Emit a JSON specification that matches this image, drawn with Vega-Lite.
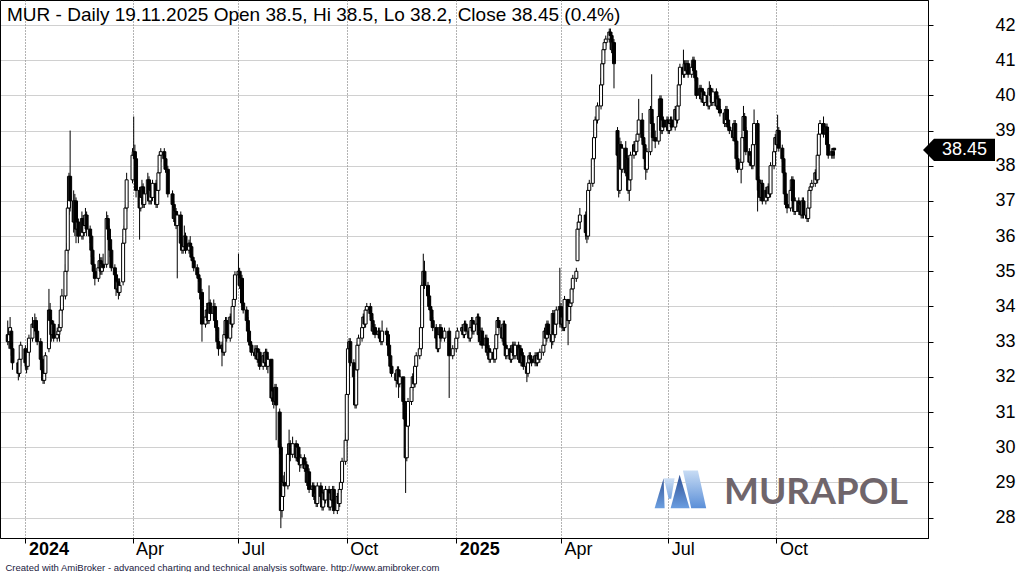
{
"$schema":"https://vega.github.io/schema/vega-lite/v6.json",
"width":928,"height":538,"padding":{"left":0,"top":0,"right":93,"bottom":34},"autosize":{"type":"none"},"background":"#ffffff",
"title":{"text":"MUR - Daily 19.11.2025 Open 38.5, Hi 38.5, Lo 38.2, Close 38.45 (0.4%)","anchor":"start","frame":"group","orient":"top","offset":-20,"dy":20,"baseline":"alphabetic","dx":7,"font":"Liberation Sans","fontSize":19,"fontWeight":"normal","color":"#000000"},
"config":{"view":{"stroke":"#000000","strokeWidth":1},"font":"Liberation Sans"},
"resolve":{"axis":{"x":"independent","y":"independent"}},
"datasets":{
"ohlc":[
{"d":"2023-12-18","o":33.2,"h":33.6,"l":32.9,"c":33.0},
{"d":"2023-12-19","o":33.0,"h":33.4,"l":32.8,"c":33.2},
{"d":"2023-12-20","o":33.2,"h":33.7,"l":33.1,"c":33.4},
{"d":"2023-12-21","o":33.3,"h":33.4,"l":32.6,"c":32.8},
{"d":"2023-12-22","o":32.8,"h":33.0,"l":32.2,"c":32.4},
{"d":"2023-12-27","o":32.4,"h":32.5,"l":31.9,"c":32.1},
{"d":"2023-12-28","o":32.1,"h":32.7,"l":32.0,"c":32.5},
{"d":"2023-12-29","o":32.5,"h":33.0,"l":32.3,"c":32.9},
{"d":"2024-01-02","o":32.8,"h":32.9,"l":32.2,"c":32.4},
{"d":"2024-01-03","o":32.4,"h":32.6,"l":32.1,"c":32.3},
{"d":"2024-01-04","o":32.3,"h":32.8,"l":32.2,"c":32.7},
{"d":"2024-01-05","o":32.7,"h":33.2,"l":32.6,"c":33.1},
{"d":"2024-01-08","o":33.1,"h":33.7,"l":33.0,"c":33.5},
{"d":"2024-01-09","o":33.5,"h":33.6,"l":33.2,"c":33.4},
{"d":"2024-01-10","o":33.4,"h":33.8,"l":33.3,"c":33.6},
{"d":"2024-01-11","o":33.6,"h":33.7,"l":33.2,"c":33.3},
{"d":"2024-01-12","o":33.3,"h":33.4,"l":32.9,"c":33.0},
{"d":"2024-01-15","o":33.0,"h":33.1,"l":32.4,"c":32.5},
{"d":"2024-01-16","o":32.5,"h":32.6,"l":32.1,"c":32.2},
{"d":"2024-01-17","o":32.2,"h":32.3,"l":31.8,"c":31.9},
{"d":"2024-01-18","o":31.9,"h":32.3,"l":31.8,"c":32.1},
{"d":"2024-01-19","o":32.1,"h":32.7,"l":32.0,"c":32.6},
{"d":"2024-01-22","o":32.8,"h":34.5,"l":32.7,"c":33.9},
{"d":"2024-01-23","o":33.9,"h":34.1,"l":33.4,"c":33.6},
{"d":"2024-01-24","o":33.6,"h":33.7,"l":33.0,"c":33.2},
{"d":"2024-01-25","o":33.2,"h":33.6,"l":33.1,"c":33.5},
{"d":"2024-01-26","o":33.5,"h":33.6,"l":33.0,"c":33.1},
{"d":"2024-01-29","o":33.1,"h":33.4,"l":33.0,"c":33.2},
{"d":"2024-01-30","o":33.2,"h":33.5,"l":33.1,"c":33.3},
{"d":"2024-01-31","o":33.3,"h":33.5,"l":33.0,"c":33.4},
{"d":"2024-02-01","o":33.4,"h":34.0,"l":33.3,"c":33.9},
{"d":"2024-02-02","o":33.9,"h":34.5,"l":33.8,"c":34.3},
{"d":"2024-02-05","o":34.3,"h":35.2,"l":34.2,"c":35.0},
{"d":"2024-02-06","o":35.0,"h":35.8,"l":34.9,"c":35.6},
{"d":"2024-02-07","o":35.6,"h":37.0,"l":35.5,"c":36.8},
{"d":"2024-02-08","o":36.8,"h":37.8,"l":36.6,"c":37.7},
{"d":"2024-02-09","o":37.7,"h":39.0,"l":36.7,"c":37.0},
{"d":"2024-02-12","o":37.0,"h":37.3,"l":36.1,"c":36.4},
{"d":"2024-02-13","o":36.4,"h":37.2,"l":36.0,"c":37.0},
{"d":"2024-02-14","o":37.0,"h":37.1,"l":35.8,"c":36.2},
{"d":"2024-02-15","o":36.2,"h":36.6,"l":36.0,"c":36.4},
{"d":"2024-02-16","o":36.4,"h":36.5,"l":35.8,"c":36.0},
{"d":"2024-02-19","o":36.0,"h":36.7,"l":35.9,"c":36.5},
{"d":"2024-02-20","o":36.5,"h":36.6,"l":35.9,"c":36.1},
{"d":"2024-02-21","o":36.1,"h":36.6,"l":36.0,"c":36.3},
{"d":"2024-02-22","o":36.3,"h":36.8,"l":36.2,"c":36.6},
{"d":"2024-02-23","o":36.6,"h":36.7,"l":36.0,"c":36.2},
{"d":"2024-02-26","o":36.2,"h":36.3,"l":35.8,"c":36.0},
{"d":"2024-02-27","o":36.0,"h":36.1,"l":35.4,"c":35.6},
{"d":"2024-02-28","o":35.6,"h":35.7,"l":35.0,"c":35.2},
{"d":"2024-02-29","o":35.2,"h":35.4,"l":34.8,"c":35.0},
{"d":"2024-03-01","o":35.0,"h":35.1,"l":34.6,"c":34.8},
{"d":"2024-03-04","o":34.8,"h":35.3,"l":34.7,"c":35.1},
{"d":"2024-03-05","o":35.1,"h":35.5,"l":35.0,"c":35.3},
{"d":"2024-03-06","o":35.3,"h":35.4,"l":34.9,"c":35.0},
{"d":"2024-03-07","o":35.0,"h":35.4,"l":34.9,"c":35.2},
{"d":"2024-03-08","o":35.2,"h":35.5,"l":35.0,"c":35.1},
{"d":"2024-03-11","o":35.2,"h":36.7,"l":35.1,"c":36.5},
{"d":"2024-03-12","o":36.5,"h":36.6,"l":36.0,"c":36.2},
{"d":"2024-03-13","o":36.2,"h":36.3,"l":35.7,"c":35.9},
{"d":"2024-03-14","o":35.9,"h":36.0,"l":35.4,"c":35.6},
{"d":"2024-03-15","o":35.6,"h":35.7,"l":35.0,"c":35.1},
{"d":"2024-03-18","o":35.1,"h":35.2,"l":34.7,"c":34.9},
{"d":"2024-03-19","o":34.9,"h":35.0,"l":34.3,"c":34.5},
{"d":"2024-03-20","o":34.5,"h":34.9,"l":34.4,"c":34.7},
{"d":"2024-03-21","o":34.7,"h":34.8,"l":34.2,"c":34.4},
{"d":"2024-03-22","o":34.4,"h":34.8,"l":34.3,"c":34.6},
{"d":"2024-03-25","o":34.7,"h":35.9,"l":34.6,"c":35.8},
{"d":"2024-03-26","o":35.8,"h":36.3,"l":35.6,"c":36.2},
{"d":"2024-03-27","o":36.2,"h":36.9,"l":36.1,"c":36.8},
{"d":"2024-03-28","o":36.8,"h":37.8,"l":36.7,"c":37.6},
{"d":"2024-04-02","o":37.6,"h":38.5,"l":37.5,"c":38.3},
{"d":"2024-04-03","o":38.3,"h":39.4,"l":38.1,"c":38.4},
{"d":"2024-04-04","o":38.4,"h":38.6,"l":38.0,"c":38.2},
{"d":"2024-04-05","o":38.2,"h":38.3,"l":37.1,"c":37.3},
{"d":"2024-04-08","o":37.3,"h":37.4,"l":35.9,"c":36.8},
{"d":"2024-04-09","o":36.8,"h":37.3,"l":36.7,"c":37.1},
{"d":"2024-04-10","o":37.1,"h":37.6,"l":37.0,"c":37.4},
{"d":"2024-04-11","o":37.4,"h":37.5,"l":36.8,"c":36.9},
{"d":"2024-04-12","o":36.9,"h":37.3,"l":36.8,"c":37.2},
{"d":"2024-04-15","o":37.2,"h":37.8,"l":37.1,"c":37.6},
{"d":"2024-04-16","o":37.6,"h":37.7,"l":36.9,"c":37.0},
{"d":"2024-04-17","o":37.0,"h":37.4,"l":36.9,"c":37.3},
{"d":"2024-04-18","o":37.3,"h":37.4,"l":36.9,"c":37.1},
{"d":"2024-04-19","o":37.1,"h":37.6,"l":37.0,"c":37.5},
{"d":"2024-04-22","o":37.5,"h":37.6,"l":36.8,"c":36.9},
{"d":"2024-04-23","o":36.9,"h":37.4,"l":36.8,"c":37.3},
{"d":"2024-04-24","o":37.3,"h":37.9,"l":37.2,"c":37.8},
{"d":"2024-04-25","o":37.8,"h":38.4,"l":37.7,"c":38.3},
{"d":"2024-04-26","o":38.3,"h":38.5,"l":38.1,"c":38.4},
{"d":"2024-04-29","o":38.4,"h":38.5,"l":38.0,"c":38.2},
{"d":"2024-04-30","o":38.2,"h":38.3,"l":37.8,"c":37.9},
{"d":"2024-05-02","o":37.9,"h":38.0,"l":37.1,"c":37.2},
{"d":"2024-05-06","o":37.2,"h":37.3,"l":36.8,"c":36.9},
{"d":"2024-05-07","o":36.9,"h":37.0,"l":36.4,"c":36.5},
{"d":"2024-05-08","o":36.5,"h":36.9,"l":36.4,"c":36.7},
{"d":"2024-05-09","o":36.7,"h":36.8,"l":36.2,"c":36.3},
{"d":"2024-05-10","o":36.3,"h":36.7,"l":34.8,"c":36.6},
{"d":"2024-05-13","o":36.6,"h":36.7,"l":35.6,"c":35.8},
{"d":"2024-05-14","o":35.8,"h":36.0,"l":35.5,"c":35.6},
{"d":"2024-05-15","o":35.6,"h":35.9,"l":35.5,"c":35.7},
{"d":"2024-05-16","o":35.7,"h":36.3,"l":35.6,"c":36.0},
{"d":"2024-05-17","o":36.0,"h":36.1,"l":35.5,"c":35.6},
{"d":"2024-05-20","o":35.6,"h":35.9,"l":35.5,"c":35.8},
{"d":"2024-05-21","o":35.8,"h":36.0,"l":35.6,"c":35.7},
{"d":"2024-05-22","o":35.7,"h":35.8,"l":35.3,"c":35.4},
{"d":"2024-05-23","o":35.4,"h":35.5,"l":35.2,"c":35.3},
{"d":"2024-05-24","o":35.3,"h":35.4,"l":35.0,"c":35.1},
{"d":"2024-05-27","o":35.1,"h":35.2,"l":34.8,"c":34.9},
{"d":"2024-05-28","o":34.9,"h":35.0,"l":34.7,"c":34.8},
{"d":"2024-05-29","o":34.8,"h":34.9,"l":34.2,"c":34.4},
{"d":"2024-05-31","o":34.4,"h":34.5,"l":33.0,"c":33.5},
{"d":"2024-06-03","o":33.5,"h":33.9,"l":33.4,"c":33.7},
{"d":"2024-06-04","o":33.7,"h":34.1,"l":33.6,"c":33.9},
{"d":"2024-06-05","o":33.9,"h":34.0,"l":33.5,"c":33.6},
{"d":"2024-06-06","o":33.6,"h":34.6,"l":33.5,"c":34.1},
{"d":"2024-06-07","o":34.1,"h":34.2,"l":33.7,"c":33.8},
{"d":"2024-06-10","o":33.8,"h":34.2,"l":33.7,"c":34.0},
{"d":"2024-06-11","o":34.0,"h":34.1,"l":33.5,"c":33.6},
{"d":"2024-06-12","o":33.6,"h":33.7,"l":33.3,"c":33.4},
{"d":"2024-06-13","o":33.4,"h":33.5,"l":32.9,"c":33.0},
{"d":"2024-06-14","o":33.0,"h":33.1,"l":32.6,"c":32.8},
{"d":"2024-06-17","o":32.8,"h":33.0,"l":32.3,"c":32.9},
{"d":"2024-06-18","o":32.9,"h":33.0,"l":32.6,"c":32.7},
{"d":"2024-06-19","o":32.7,"h":33.3,"l":32.6,"c":33.2},
{"d":"2024-06-20","o":33.2,"h":33.7,"l":33.1,"c":33.6},
{"d":"2024-06-21","o":33.6,"h":33.7,"l":33.0,"c":33.1},
{"d":"2024-06-24","o":33.1,"h":33.8,"l":33.0,"c":33.7},
{"d":"2024-06-25","o":33.7,"h":33.8,"l":33.4,"c":33.5},
{"d":"2024-06-26","o":33.5,"h":34.1,"l":33.4,"c":34.0},
{"d":"2024-06-27","o":34.0,"h":34.3,"l":33.9,"c":34.2},
{"d":"2024-06-28","o":34.2,"h":35.0,"l":34.1,"c":34.9},
{"d":"2024-07-01","o":34.9,"h":35.5,"l":34.8,"c":35.0},
{"d":"2024-07-02","o":35.0,"h":35.1,"l":34.5,"c":34.6},
{"d":"2024-07-03","o":34.6,"h":34.9,"l":34.1,"c":34.8},
{"d":"2024-07-04","o":34.8,"h":34.9,"l":34.0,"c":34.1},
{"d":"2024-07-05","o":34.1,"h":34.2,"l":33.8,"c":33.9},
{"d":"2024-07-08","o":33.9,"h":34.0,"l":33.5,"c":33.6},
{"d":"2024-07-09","o":33.6,"h":33.7,"l":33.2,"c":33.3},
{"d":"2024-07-10","o":33.3,"h":33.4,"l":32.9,"c":33.0},
{"d":"2024-07-11","o":33.0,"h":33.1,"l":32.8,"c":32.9},
{"d":"2024-07-12","o":32.9,"h":33.0,"l":32.6,"c":32.7},
{"d":"2024-07-15","o":32.7,"h":32.9,"l":32.5,"c":32.6},
{"d":"2024-07-16","o":32.6,"h":32.9,"l":32.5,"c":32.8},
{"d":"2024-07-17","o":32.8,"h":32.9,"l":32.4,"c":32.5},
{"d":"2024-07-18","o":32.5,"h":32.8,"l":32.4,"c":32.7},
{"d":"2024-07-19","o":32.7,"h":32.8,"l":32.2,"c":32.3},
{"d":"2024-07-22","o":32.3,"h":32.7,"l":32.2,"c":32.6},
{"d":"2024-07-23","o":32.6,"h":32.7,"l":32.3,"c":32.4},
{"d":"2024-07-24","o":32.4,"h":32.8,"l":32.3,"c":32.7},
{"d":"2024-07-25","o":32.7,"h":32.8,"l":32.2,"c":32.3},
{"d":"2024-07-26","o":32.3,"h":32.6,"l":32.1,"c":32.5},
{"d":"2024-07-29","o":32.5,"h":32.5,"l":31.3,"c":31.4},
{"d":"2024-07-30","o":31.4,"h":31.7,"l":31.2,"c":31.6},
{"d":"2024-07-31","o":31.6,"h":31.7,"l":31.1,"c":31.3},
{"d":"2024-08-01","o":31.3,"h":31.8,"l":31.2,"c":31.7},
{"d":"2024-08-02","o":31.7,"h":31.8,"l":30.2,"c":31.2},
{"d":"2024-08-05","o":31.0,"h":31.1,"l":29.8,"c":30.0},
{"d":"2024-08-06","o":30.0,"h":30.1,"l":27.7,"c":28.2},
{"d":"2024-08-07","o":28.2,"h":28.8,"l":28.0,"c":28.6},
{"d":"2024-08-08","o":28.6,"h":29.2,"l":28.5,"c":29.0},
{"d":"2024-08-09","o":29.0,"h":29.3,"l":28.7,"c":28.9},
{"d":"2024-08-12","o":28.9,"h":30.0,"l":28.8,"c":29.8},
{"d":"2024-08-13","o":29.8,"h":30.5,"l":29.7,"c":30.1},
{"d":"2024-08-14","o":30.1,"h":30.2,"l":29.6,"c":29.8},
{"d":"2024-08-16","o":29.8,"h":30.3,"l":29.7,"c":30.1},
{"d":"2024-08-19","o":30.1,"h":30.2,"l":29.6,"c":29.7},
{"d":"2024-08-20","o":29.7,"h":30.1,"l":29.6,"c":30.0},
{"d":"2024-08-21","o":30.0,"h":30.1,"l":29.5,"c":29.6},
{"d":"2024-08-22","o":29.6,"h":29.7,"l":29.3,"c":29.5},
{"d":"2024-08-23","o":29.5,"h":29.8,"l":29.4,"c":29.7},
{"d":"2024-08-26","o":29.7,"h":29.8,"l":29.3,"c":29.4},
{"d":"2024-08-27","o":29.4,"h":29.6,"l":29.3,"c":29.5},
{"d":"2024-08-28","o":29.5,"h":29.6,"l":28.9,"c":29.0},
{"d":"2024-08-29","o":29.0,"h":29.4,"l":28.9,"c":29.3},
{"d":"2024-08-30","o":29.3,"h":29.4,"l":28.7,"c":28.8},
{"d":"2024-09-02","o":28.8,"h":29.0,"l":28.6,"c":28.9},
{"d":"2024-09-03","o":28.9,"h":29.0,"l":28.5,"c":28.6},
{"d":"2024-09-04","o":28.6,"h":28.9,"l":28.5,"c":28.7},
{"d":"2024-09-05","o":28.7,"h":28.8,"l":28.3,"c":28.4},
{"d":"2024-09-06","o":28.4,"h":29.0,"l":28.3,"c":28.9},
{"d":"2024-09-09","o":28.9,"h":29.0,"l":28.5,"c":28.6},
{"d":"2024-09-10","o":28.6,"h":28.7,"l":28.2,"c":28.3},
{"d":"2024-09-11","o":28.3,"h":28.8,"l":28.2,"c":28.7},
{"d":"2024-09-12","o":28.7,"h":28.8,"l":28.4,"c":28.5},
{"d":"2024-09-13","o":28.5,"h":28.9,"l":28.4,"c":28.8},
{"d":"2024-09-16","o":28.8,"h":28.9,"l":28.2,"c":28.3},
{"d":"2024-09-17","o":28.3,"h":28.8,"l":28.2,"c":28.7},
{"d":"2024-09-18","o":28.7,"h":28.8,"l":28.4,"c":28.5},
{"d":"2024-09-19","o":28.5,"h":28.9,"l":28.4,"c":28.8},
{"d":"2024-09-20","o":28.8,"h":28.9,"l":28.1,"c":28.2},
{"d":"2024-09-23","o":28.2,"h":28.7,"l":28.1,"c":28.6},
{"d":"2024-09-24","o":28.6,"h":28.7,"l":28.3,"c":28.4},
{"d":"2024-09-25","o":28.4,"h":28.9,"l":28.3,"c":28.8},
{"d":"2024-09-26","o":28.8,"h":29.1,"l":28.7,"c":29.0},
{"d":"2024-09-27","o":29.0,"h":29.7,"l":28.9,"c":29.6},
{"d":"2024-09-30","o":29.6,"h":30.4,"l":29.5,"c":30.2},
{"d":"2024-10-01","o":30.2,"h":31.6,"l":30.1,"c":31.5},
{"d":"2024-10-02","o":31.5,"h":32.9,"l":31.4,"c":32.8},
{"d":"2024-10-03","o":32.8,"h":33.1,"l":32.5,"c":33.0},
{"d":"2024-10-04","o":33.0,"h":33.1,"l":32.3,"c":32.4},
{"d":"2024-10-07","o":32.4,"h":32.5,"l":31.9,"c":32.0},
{"d":"2024-10-08","o":32.0,"h":32.1,"l":31.1,"c":31.2},
{"d":"2024-10-09","o":31.2,"h":32.3,"l":31.1,"c":32.2},
{"d":"2024-10-10","o":32.2,"h":33.0,"l":32.1,"c":32.9},
{"d":"2024-10-11","o":32.9,"h":33.2,"l":32.8,"c":33.1},
{"d":"2024-10-14","o":33.1,"h":33.5,"l":33.0,"c":33.4},
{"d":"2024-10-15","o":33.4,"h":33.8,"l":33.3,"c":33.7},
{"d":"2024-10-16","o":33.7,"h":33.8,"l":33.4,"c":33.5},
{"d":"2024-10-17","o":33.5,"h":34.0,"l":33.4,"c":33.9},
{"d":"2024-10-18","o":33.9,"h":34.1,"l":33.8,"c":34.0},
{"d":"2024-10-21","o":34.0,"h":34.1,"l":33.7,"c":33.8},
{"d":"2024-10-22","o":33.8,"h":33.9,"l":33.5,"c":33.6},
{"d":"2024-10-23","o":33.6,"h":33.7,"l":33.2,"c":33.3},
{"d":"2024-10-24","o":33.3,"h":33.5,"l":33.2,"c":33.4},
{"d":"2024-10-25","o":33.4,"h":33.5,"l":33.1,"c":33.2},
{"d":"2024-10-28","o":33.2,"h":33.4,"l":33.1,"c":33.3},
{"d":"2024-10-29","o":33.3,"h":33.4,"l":33.0,"c":33.1},
{"d":"2024-10-30","o":33.1,"h":33.2,"l":32.9,"c":33.0},
{"d":"2024-10-31","o":33.0,"h":33.6,"l":32.9,"c":33.3},
{"d":"2024-11-04","o":33.3,"h":33.4,"l":33.1,"c":33.2},
{"d":"2024-11-05","o":33.2,"h":33.3,"l":32.8,"c":32.9},
{"d":"2024-11-06","o":32.9,"h":33.0,"l":32.5,"c":32.6},
{"d":"2024-11-07","o":32.6,"h":32.7,"l":32.2,"c":32.3},
{"d":"2024-11-08","o":32.3,"h":32.4,"l":32.0,"c":32.1},
{"d":"2024-11-12","o":32.1,"h":32.2,"l":31.7,"c":31.9},
{"d":"2024-11-13","o":31.9,"h":32.3,"l":31.8,"c":32.2},
{"d":"2024-11-14","o":32.2,"h":32.3,"l":31.4,"c":31.8},
{"d":"2024-11-15","o":31.8,"h":32.1,"l":31.7,"c":32.0},
{"d":"2024-11-18","o":32.0,"h":32.0,"l":31.2,"c":31.3},
{"d":"2024-11-19","o":31.3,"h":31.4,"l":30.6,"c":30.8},
{"d":"2024-11-20","o":30.8,"h":30.9,"l":28.7,"c":29.7},
{"d":"2024-11-21","o":29.7,"h":30.7,"l":29.6,"c":30.6},
{"d":"2024-11-22","o":30.6,"h":31.4,"l":30.5,"c":31.3},
{"d":"2024-11-25","o":31.3,"h":31.8,"l":31.2,"c":31.7},
{"d":"2024-11-26","o":31.7,"h":32.1,"l":31.6,"c":32.0},
{"d":"2024-11-27","o":32.0,"h":32.1,"l":31.7,"c":31.8},
{"d":"2024-11-28","o":31.8,"h":32.4,"l":31.7,"c":32.3},
{"d":"2024-11-29","o":32.3,"h":32.7,"l":32.2,"c":32.6},
{"d":"2024-12-02","o":32.6,"h":32.9,"l":32.5,"c":32.8},
{"d":"2024-12-03","o":32.8,"h":33.5,"l":32.7,"c":33.4},
{"d":"2024-12-04","o":33.4,"h":34.7,"l":33.3,"c":34.6},
{"d":"2024-12-05","o":34.6,"h":35.5,"l":34.5,"c":35.0},
{"d":"2024-12-06","o":35.0,"h":35.3,"l":34.5,"c":34.6},
{"d":"2024-12-09","o":34.6,"h":34.7,"l":34.2,"c":34.3},
{"d":"2024-12-10","o":34.3,"h":34.4,"l":33.9,"c":34.0},
{"d":"2024-12-11","o":34.0,"h":34.2,"l":33.8,"c":33.9},
{"d":"2024-12-12","o":33.9,"h":34.0,"l":33.5,"c":33.6},
{"d":"2024-12-13","o":33.6,"h":33.7,"l":33.3,"c":33.4},
{"d":"2024-12-16","o":33.4,"h":33.5,"l":33.0,"c":33.1},
{"d":"2024-12-17","o":33.1,"h":33.2,"l":32.7,"c":32.8},
{"d":"2024-12-18","o":32.8,"h":33.3,"l":32.7,"c":33.2},
{"d":"2024-12-19","o":33.2,"h":33.5,"l":33.1,"c":33.4},
{"d":"2024-12-20","o":33.4,"h":33.5,"l":33.0,"c":33.1},
{"d":"2024-12-23","o":33.1,"h":33.4,"l":33.0,"c":33.3},
{"d":"2024-12-27","o":33.3,"h":33.4,"l":31.4,"c":32.6},
{"d":"2024-12-30","o":32.6,"h":32.9,"l":32.5,"c":32.8},
{"d":"2025-01-02","o":32.8,"h":33.2,"l":32.7,"c":33.1},
{"d":"2025-01-03","o":33.1,"h":33.4,"l":33.0,"c":33.3},
{"d":"2025-01-07","o":33.3,"h":33.5,"l":33.2,"c":33.4},
{"d":"2025-01-08","o":33.4,"h":33.5,"l":33.1,"c":33.2},
{"d":"2025-01-09","o":33.2,"h":33.6,"l":33.1,"c":33.5},
{"d":"2025-01-10","o":33.5,"h":33.6,"l":33.2,"c":33.3},
{"d":"2025-01-13","o":33.3,"h":33.4,"l":33.0,"c":33.1},
{"d":"2025-01-14","o":33.1,"h":33.5,"l":33.0,"c":33.4},
{"d":"2025-01-15","o":33.4,"h":33.7,"l":33.3,"c":33.6},
{"d":"2025-01-16","o":33.6,"h":33.7,"l":33.2,"c":33.3},
{"d":"2025-01-17","o":33.3,"h":33.6,"l":33.2,"c":33.5},
{"d":"2025-01-20","o":33.5,"h":33.8,"l":33.4,"c":33.7},
{"d":"2025-01-21","o":33.7,"h":33.8,"l":33.1,"c":33.2},
{"d":"2025-01-22","o":33.2,"h":33.3,"l":32.9,"c":33.0},
{"d":"2025-01-23","o":33.0,"h":33.4,"l":32.9,"c":33.3},
{"d":"2025-01-24","o":33.3,"h":33.4,"l":32.8,"c":32.9},
{"d":"2025-01-27","o":32.9,"h":33.2,"l":32.8,"c":33.1},
{"d":"2025-01-28","o":33.1,"h":33.2,"l":32.6,"c":32.7},
{"d":"2025-01-29","o":32.7,"h":32.9,"l":32.6,"c":32.8},
{"d":"2025-01-30","o":32.8,"h":32.9,"l":32.4,"c":32.5},
{"d":"2025-01-31","o":32.5,"h":32.8,"l":32.4,"c":32.7},
{"d":"2025-02-03","o":32.7,"h":32.8,"l":32.4,"c":32.5},
{"d":"2025-02-04","o":32.5,"h":32.9,"l":32.4,"c":32.8},
{"d":"2025-02-05","o":32.8,"h":33.3,"l":32.7,"c":33.2},
{"d":"2025-02-06","o":33.2,"h":33.7,"l":33.1,"c":33.6},
{"d":"2025-02-07","o":33.6,"h":33.7,"l":33.3,"c":33.4},
{"d":"2025-02-10","o":33.4,"h":33.5,"l":33.0,"c":33.1},
{"d":"2025-02-11","o":33.1,"h":33.6,"l":33.0,"c":33.5},
{"d":"2025-02-12","o":33.5,"h":33.6,"l":32.8,"c":32.9},
{"d":"2025-02-13","o":32.9,"h":33.0,"l":32.5,"c":32.6},
{"d":"2025-02-14","o":32.6,"h":32.9,"l":32.5,"c":32.8},
{"d":"2025-02-17","o":32.8,"h":32.9,"l":32.4,"c":32.5},
{"d":"2025-02-18","o":32.5,"h":32.8,"l":32.4,"c":32.7},
{"d":"2025-02-19","o":32.7,"h":33.0,"l":32.6,"c":32.9},
{"d":"2025-02-20","o":32.9,"h":33.0,"l":32.5,"c":32.6},
{"d":"2025-02-21","o":32.6,"h":33.0,"l":32.5,"c":32.9},
{"d":"2025-02-24","o":32.9,"h":33.0,"l":32.4,"c":32.5},
{"d":"2025-02-25","o":32.5,"h":32.9,"l":32.4,"c":32.8},
{"d":"2025-02-26","o":32.8,"h":32.9,"l":32.3,"c":32.4},
{"d":"2025-02-27","o":32.4,"h":32.7,"l":32.3,"c":32.6},
{"d":"2025-02-28","o":32.6,"h":32.7,"l":32.2,"c":32.3},
{"d":"2025-03-03","o":32.3,"h":32.4,"l":31.85,"c":32.1},
{"d":"2025-03-04","o":32.1,"h":32.5,"l":32.0,"c":32.4},
{"d":"2025-03-05","o":32.4,"h":32.7,"l":32.3,"c":32.6},
{"d":"2025-03-06","o":32.6,"h":32.7,"l":32.4,"c":32.5},
{"d":"2025-03-07","o":32.5,"h":32.6,"l":32.3,"c":32.4},
{"d":"2025-03-10","o":32.4,"h":32.7,"l":32.3,"c":32.6},
{"d":"2025-03-11","o":32.6,"h":32.7,"l":32.3,"c":32.4},
{"d":"2025-03-12","o":32.4,"h":32.7,"l":32.3,"c":32.6},
{"d":"2025-03-13","o":32.6,"h":32.7,"l":32.4,"c":32.5},
{"d":"2025-03-14","o":32.5,"h":32.8,"l":32.4,"c":32.7},
{"d":"2025-03-17","o":32.7,"h":33.0,"l":32.6,"c":32.9},
{"d":"2025-03-18","o":32.9,"h":33.4,"l":32.8,"c":33.3},
{"d":"2025-03-19","o":33.3,"h":33.4,"l":33.0,"c":33.1},
{"d":"2025-03-20","o":33.1,"h":33.6,"l":33.0,"c":33.5},
{"d":"2025-03-21","o":33.5,"h":33.6,"l":33.1,"c":33.2},
{"d":"2025-03-24","o":33.2,"h":33.3,"l":32.8,"c":33.0},
{"d":"2025-03-25","o":33.0,"h":33.9,"l":32.9,"c":33.8},
{"d":"2025-03-26","o":33.8,"h":33.9,"l":33.1,"c":33.2},
{"d":"2025-03-27","o":33.2,"h":33.6,"l":33.1,"c":33.5},
{"d":"2025-03-28","o":33.5,"h":34.0,"l":33.4,"c":33.9},
{"d":"2025-03-31","o":33.9,"h":35.1,"l":33.4,"c":34.0},
{"d":"2025-04-01","o":34.0,"h":34.1,"l":33.4,"c":33.5},
{"d":"2025-04-02","o":33.5,"h":33.8,"l":33.3,"c":33.7},
{"d":"2025-04-03","o":33.7,"h":33.8,"l":33.3,"c":33.4},
{"d":"2025-04-04","o":33.4,"h":34.3,"l":33.3,"c":34.2},
{"d":"2025-04-07","o":34.2,"h":34.2,"l":32.9,"c":33.6},
{"d":"2025-04-08","o":33.6,"h":34.1,"l":33.5,"c":34.0},
{"d":"2025-04-09","o":34.0,"h":34.2,"l":33.8,"c":34.1},
{"d":"2025-04-10","o":34.1,"h":34.6,"l":34.0,"c":34.5},
{"d":"2025-04-11","o":34.5,"h":34.9,"l":34.4,"c":34.8},
{"d":"2025-04-14","o":34.8,"h":35.1,"l":34.7,"c":35.0},
{"d":"2025-04-15","o":35.3,"h":36.4,"l":35.3,"c":36.2},
{"d":"2025-04-16","o":36.2,"h":36.6,"l":36.0,"c":36.4},
{"d":"2025-04-17","o":36.4,"h":36.8,"l":36.2,"c":36.6},
{"d":"2025-04-22","o":36.6,"h":36.7,"l":35.9,"c":36.1},
{"d":"2025-04-23","o":36.1,"h":36.3,"l":35.8,"c":36.0},
{"d":"2025-04-24","o":36.0,"h":37.4,"l":35.9,"c":37.3},
{"d":"2025-04-25","o":37.3,"h":37.6,"l":37.1,"c":37.5},
{"d":"2025-04-28","o":37.5,"h":38.3,"l":37.4,"c":38.2},
{"d":"2025-04-29","o":38.2,"h":38.9,"l":38.1,"c":38.8},
{"d":"2025-04-30","o":38.8,"h":39.4,"l":38.7,"c":39.3},
{"d":"2025-05-02","o":39.3,"h":39.8,"l":39.2,"c":39.7},
{"d":"2025-05-05","o":39.7,"h":40.5,"l":39.6,"c":40.3},
{"d":"2025-05-06","o":40.3,"h":41.0,"l":40.2,"c":40.9},
{"d":"2025-05-07","o":40.9,"h":41.4,"l":40.8,"c":41.3},
{"d":"2025-05-08","o":41.3,"h":41.6,"l":41.2,"c":41.5},
{"d":"2025-05-09","o":41.5,"h":41.7,"l":41.4,"c":41.6},
{"d":"2025-05-12","o":41.6,"h":41.9,"l":41.5,"c":41.8},
{"d":"2025-05-13","o":41.8,"h":41.9,"l":41.6,"c":41.7},
{"d":"2025-05-14","o":41.7,"h":41.8,"l":41.2,"c":41.3},
{"d":"2025-05-15","o":41.3,"h":41.6,"l":41.2,"c":41.5},
{"d":"2025-05-16","o":41.5,"h":41.6,"l":40.2,"c":40.9},
{"d":"2025-05-19","o":39.0,"h":39.1,"l":38.1,"c":38.3},
{"d":"2025-05-20","o":38.3,"h":38.4,"l":37.1,"c":37.3},
{"d":"2025-05-21","o":37.3,"h":38.8,"l":37.2,"c":38.6},
{"d":"2025-05-22","o":38.6,"h":38.7,"l":37.7,"c":37.9},
{"d":"2025-05-23","o":37.9,"h":38.6,"l":37.8,"c":38.5},
{"d":"2025-05-26","o":38.5,"h":38.7,"l":37.7,"c":37.8},
{"d":"2025-05-27","o":37.8,"h":38.3,"l":37.7,"c":38.2},
{"d":"2025-05-28","o":38.2,"h":38.3,"l":37.2,"c":37.3},
{"d":"2025-05-29","o":37.3,"h":37.7,"l":37.0,"c":37.6},
{"d":"2025-05-30","o":37.6,"h":38.4,"l":37.5,"c":38.3},
{"d":"2025-06-02","o":38.3,"h":38.7,"l":38.2,"c":38.6},
{"d":"2025-06-03","o":38.6,"h":38.7,"l":38.3,"c":38.4},
{"d":"2025-06-04","o":38.4,"h":38.8,"l":38.3,"c":38.7},
{"d":"2025-06-05","o":38.7,"h":39.0,"l":38.6,"c":38.9},
{"d":"2025-06-06","o":38.9,"h":39.9,"l":38.8,"c":39.3},
{"d":"2025-06-09","o":39.3,"h":39.5,"l":38.7,"c":38.8},
{"d":"2025-06-10","o":38.8,"h":38.9,"l":38.5,"c":38.6},
{"d":"2025-06-11","o":38.6,"h":38.7,"l":38.1,"c":38.2},
{"d":"2025-06-12","o":38.2,"h":38.3,"l":37.6,"c":37.9},
{"d":"2025-06-13","o":37.9,"h":38.5,"l":37.8,"c":38.4},
{"d":"2025-06-16","o":38.4,"h":39.7,"l":38.3,"c":39.6},
{"d":"2025-06-17","o":39.6,"h":40.6,"l":39.1,"c":39.2},
{"d":"2025-06-18","o":39.2,"h":39.4,"l":38.7,"c":38.8},
{"d":"2025-06-20","o":38.8,"h":39.0,"l":38.5,"c":38.7},
{"d":"2025-06-23","o":38.7,"h":39.5,"l":38.6,"c":39.4},
{"d":"2025-06-24","o":39.4,"h":40.0,"l":39.3,"c":39.9},
{"d":"2025-06-25","o":39.9,"h":40.0,"l":38.9,"c":39.0},
{"d":"2025-06-26","o":39.0,"h":39.4,"l":38.9,"c":39.3},
{"d":"2025-06-27","o":39.3,"h":39.4,"l":39.0,"c":39.1},
{"d":"2025-06-30","o":39.1,"h":39.4,"l":39.0,"c":39.3},
{"d":"2025-07-01","o":39.3,"h":39.4,"l":38.9,"c":39.0},
{"d":"2025-07-02","o":39.0,"h":39.3,"l":38.9,"c":39.2},
{"d":"2025-07-03","o":39.2,"h":39.4,"l":39.1,"c":39.3},
{"d":"2025-07-04","o":39.3,"h":39.4,"l":39.0,"c":39.1},
{"d":"2025-07-07","o":39.1,"h":39.7,"l":39.0,"c":39.6},
{"d":"2025-07-08","o":39.6,"h":39.7,"l":39.2,"c":39.3},
{"d":"2025-07-09","o":39.3,"h":39.8,"l":39.2,"c":39.7},
{"d":"2025-07-10","o":39.7,"h":40.4,"l":39.6,"c":40.3},
{"d":"2025-07-11","o":40.3,"h":40.9,"l":40.2,"c":40.8},
{"d":"2025-07-14","o":40.8,"h":41.3,"l":40.5,"c":40.6},
{"d":"2025-07-15","o":40.6,"h":41.0,"l":40.5,"c":40.9},
{"d":"2025-07-16","o":40.9,"h":41.0,"l":40.6,"c":40.7},
{"d":"2025-07-17","o":40.7,"h":41.0,"l":40.6,"c":40.9},
{"d":"2025-07-18","o":40.9,"h":41.0,"l":40.5,"c":40.6},
{"d":"2025-07-21","o":40.6,"h":40.9,"l":40.5,"c":40.8},
{"d":"2025-07-22","o":40.8,"h":41.1,"l":40.7,"c":41.0},
{"d":"2025-07-23","o":41.0,"h":41.1,"l":40.6,"c":40.7},
{"d":"2025-07-24","o":40.7,"h":40.8,"l":40.4,"c":40.5},
{"d":"2025-07-25","o":40.5,"h":40.6,"l":39.9,"c":40.0},
{"d":"2025-07-28","o":40.0,"h":40.3,"l":39.9,"c":40.2},
{"d":"2025-07-29","o":40.2,"h":40.3,"l":39.8,"c":39.9},
{"d":"2025-07-30","o":39.9,"h":40.2,"l":39.8,"c":40.1},
{"d":"2025-07-31","o":40.1,"h":40.2,"l":39.7,"c":39.8},
{"d":"2025-08-01","o":39.8,"h":40.1,"l":39.7,"c":40.0},
{"d":"2025-08-04","o":40.0,"h":40.1,"l":39.6,"c":39.7},
{"d":"2025-08-05","o":39.7,"h":40.4,"l":39.6,"c":40.2},
{"d":"2025-08-06","o":40.2,"h":40.3,"l":39.9,"c":40.0},
{"d":"2025-08-07","o":40.0,"h":40.1,"l":39.7,"c":39.8},
{"d":"2025-08-08","o":39.8,"h":40.2,"l":39.7,"c":40.1},
{"d":"2025-08-11","o":40.1,"h":40.2,"l":39.6,"c":39.7},
{"d":"2025-08-12","o":39.7,"h":40.0,"l":39.6,"c":39.9},
{"d":"2025-08-13","o":39.9,"h":40.0,"l":39.5,"c":39.6},
{"d":"2025-08-14","o":39.6,"h":39.7,"l":39.4,"c":39.5},
{"d":"2025-08-18","o":39.5,"h":39.6,"l":39.1,"c":39.2},
{"d":"2025-08-19","o":39.2,"h":39.7,"l":39.1,"c":39.6},
{"d":"2025-08-20","o":39.6,"h":39.7,"l":39.2,"c":39.3},
{"d":"2025-08-21","o":39.3,"h":39.4,"l":39.0,"c":39.1},
{"d":"2025-08-22","o":39.1,"h":39.2,"l":38.9,"c":39.0},
{"d":"2025-08-25","o":39.0,"h":39.1,"l":38.7,"c":38.8},
{"d":"2025-08-26","o":38.8,"h":39.3,"l":38.7,"c":39.2},
{"d":"2025-08-27","o":39.2,"h":39.3,"l":38.6,"c":38.7},
{"d":"2025-08-28","o":38.7,"h":38.8,"l":38.1,"c":38.2},
{"d":"2025-08-29","o":38.2,"h":38.3,"l":37.8,"c":37.9},
{"d":"2025-09-01","o":37.9,"h":38.2,"l":37.5,"c":38.1},
{"d":"2025-09-02","o":38.1,"h":38.9,"l":38.0,"c":38.8},
{"d":"2025-09-03","o":38.8,"h":39.7,"l":38.7,"c":39.4},
{"d":"2025-09-04","o":39.4,"h":39.5,"l":38.9,"c":39.0},
{"d":"2025-09-05","o":39.0,"h":39.1,"l":38.3,"c":38.4},
{"d":"2025-09-08","o":38.4,"h":38.5,"l":38.0,"c":38.1},
{"d":"2025-09-09","o":38.1,"h":38.4,"l":38.0,"c":38.3},
{"d":"2025-09-10","o":38.3,"h":38.4,"l":37.9,"c":38.0},
{"d":"2025-09-11","o":38.0,"h":38.7,"l":37.9,"c":38.6},
{"d":"2025-09-12","o":38.6,"h":39.6,"l":38.5,"c":39.2},
{"d":"2025-09-15","o":39.2,"h":39.3,"l":36.7,"c":37.6},
{"d":"2025-09-16","o":37.6,"h":37.7,"l":37.2,"c":37.3},
{"d":"2025-09-17","o":37.3,"h":37.4,"l":37.0,"c":37.1},
{"d":"2025-09-18","o":37.1,"h":37.6,"l":37.0,"c":37.5},
{"d":"2025-09-19","o":37.5,"h":37.6,"l":36.9,"c":37.0},
{"d":"2025-09-22","o":37.0,"h":37.4,"l":36.9,"c":37.3},
{"d":"2025-09-23","o":37.3,"h":37.4,"l":37.0,"c":37.1},
{"d":"2025-09-24","o":37.1,"h":37.5,"l":37.0,"c":37.4},
{"d":"2025-09-25","o":37.4,"h":37.5,"l":37.1,"c":37.2},
{"d":"2025-09-26","o":37.2,"h":38.1,"l":37.1,"c":38.0},
{"d":"2025-09-29","o":38.0,"h":38.5,"l":37.9,"c":38.4},
{"d":"2025-09-30","o":38.4,"h":38.9,"l":38.3,"c":38.8},
{"d":"2025-10-01","o":38.8,"h":38.9,"l":38.5,"c":38.6},
{"d":"2025-10-02","o":38.6,"h":39.45,"l":38.5,"c":39.0},
{"d":"2025-10-03","o":39.0,"h":39.1,"l":38.4,"c":38.5},
{"d":"2025-10-06","o":38.5,"h":38.6,"l":38.1,"c":38.2},
{"d":"2025-10-07","o":38.2,"h":38.3,"l":37.7,"c":37.8},
{"d":"2025-10-08","o":37.8,"h":37.9,"l":37.1,"c":37.2},
{"d":"2025-10-09","o":37.2,"h":37.3,"l":36.8,"c":36.9},
{"d":"2025-10-10","o":36.9,"h":37.0,"l":36.65,"c":36.8},
{"d":"2025-10-13","o":36.8,"h":37.4,"l":36.7,"c":37.3},
{"d":"2025-10-14","o":37.3,"h":37.7,"l":37.2,"c":37.6},
{"d":"2025-10-15","o":37.6,"h":37.7,"l":36.9,"c":37.0},
{"d":"2025-10-16","o":37.0,"h":37.1,"l":36.6,"c":36.7},
{"d":"2025-10-17","o":36.7,"h":37.1,"l":36.6,"c":37.0},
{"d":"2025-10-20","o":37.0,"h":37.1,"l":36.6,"c":36.7},
{"d":"2025-10-21","o":36.7,"h":37.0,"l":36.6,"c":36.9},
{"d":"2025-10-22","o":36.9,"h":37.0,"l":36.5,"c":36.6},
{"d":"2025-10-23","o":36.6,"h":37.1,"l":36.5,"c":37.0},
{"d":"2025-10-24","o":37.0,"h":37.1,"l":36.5,"c":36.6},
{"d":"2025-10-27","o":36.6,"h":36.7,"l":36.4,"c":36.5},
{"d":"2025-10-28","o":36.5,"h":36.9,"l":36.4,"c":36.8},
{"d":"2025-10-29","o":36.8,"h":37.4,"l":36.7,"c":37.3},
{"d":"2025-10-30","o":37.3,"h":37.5,"l":37.2,"c":37.4},
{"d":"2025-10-31","o":37.4,"h":37.6,"l":37.3,"c":37.5},
{"d":"2025-11-03","o":37.5,"h":37.9,"l":37.4,"c":37.8},
{"d":"2025-11-04","o":37.8,"h":37.9,"l":37.5,"c":37.6},
{"d":"2025-11-05","o":37.6,"h":38.4,"l":37.5,"c":38.3},
{"d":"2025-11-06","o":38.3,"h":39.0,"l":38.2,"c":38.9},
{"d":"2025-11-07","o":38.9,"h":39.3,"l":38.8,"c":39.2},
{"d":"2025-11-10","o":39.2,"h":39.4,"l":38.8,"c":38.9},
{"d":"2025-11-12","o":38.9,"h":39.2,"l":38.8,"c":39.1},
{"d":"2025-11-13","o":39.1,"h":39.2,"l":38.5,"c":38.6},
{"d":"2025-11-14","o":38.6,"h":38.7,"l":38.2,"c":38.3},
{"d":"2025-11-17","o":38.3,"h":38.5,"l":38.2,"c":38.4},
{"d":"2025-11-18","o":38.4,"h":38.5,"l":38.2,"c":38.3},
{"d":"2025-11-19","o":38.5,"h":38.5,"l":38.2,"c":38.45}
],
"last":[{"p":38.45,"t":"38.45"}],
"logo":[{"p":28.78,"n":"MURAPOL"}]
},
"layer":[
{"data":{"name":"ohlc"},"mark":{"type":"rule","color":"#000000","strokeWidth":1},
 "encoding":{
  "x":{"field":"d","type":"temporal",
   "scale":{"type":"utc","domain":[{"year":2023,"month":12,"date":15,"hours":16,"utc":true},{"year":2026,"month":2,"date":2,"hours":12,"utc":true}],"nice":false},
   "axis":{"values":[{"year":2024,"month":1,"date":2,"utc":true},{"year":2024,"month":4,"date":2,"utc":true},{"year":2024,"month":7,"date":1,"utc":true},{"year":2024,"month":10,"date":1,"utc":true},{"year":2025,"month":1,"date":2,"utc":true},{"year":2025,"month":4,"date":1,"utc":true},{"year":2025,"month":7,"date":1,"utc":true},{"year":2025,"month":10,"date":1,"utc":true}],
    "labelExpr":"utcmonth(datum.value)==0 ? utcFormat(datum.value,'%Y') : utcFormat(datum.value,'%b')",
    "labelFontWeight":{"condition":{"test":"utcmonth(datum.value)==0","value":"bold"},"value":"normal"},
    "labelAlign":"left","labelBaseline":"top","labelPadding":-3,"labelOffset":3,"labelFontSize":18,"labelFont":"Liberation Sans","labelColor":"#000000","labelFlush":false,"labelOverlap":false,
    "tickSize":5,"tickColor":"#000000","domainColor":"#000000",
    "grid":true,"gridColor":"#666666","gridDash":[1,2],"gridWidth":1,
    "title":"Created with AmiBroker - advanced charting and technical analysis software. http://www.amibroker.com",
    "titleAnchor":"start","titleAlign":"left","titleX":5,"titleFontSize":9.5,"titleFont":"Liberation Sans","titleFontWeight":"normal","titleColor":"#1a1a40","titlePadding":4}},
  "y":{"field":"l","type":"quantitative",
   "scale":{"domain":[27.42,42.711],"nice":false,"zero":false},
   "axis":{"orient":"right","values":[28,29,30,31,32,33,34,35,36,37,38,39,40,41,42],"labelOverlap":false,"labelAlign":"left","labelBaseline":"middle","labelPadding":62,"labelFontSize":18,"labelFont":"Liberation Sans","labelColor":"#000000","tickSize":5,"tickColor":"#000000","domainColor":"#000000","grid":true,"gridColor":"#a0a0a0","gridDash":[1,1],"title":null}},
  "y2":{"field":"h"}}},
{"data":{"name":"ohlc"},"mark":{"type":"bar","size":3,"stroke":"#000000","strokeWidth":1},
 "encoding":{
  "x":{"field":"d","type":"temporal","axis":null},
  "y":{"field":"o","type":"quantitative","axis":null},
  "y2":{"field":"c"},
  "fill":{"condition":{"test":"datum.c >= datum.o","value":"#ffffff"},"value":"#000000"}}},
{"data":{"name":"logo"},"mark":{"type":"point","filled":true,"opacity":1,"size":4,"strokeWidth":0,"shape":"M-25.3,18L-15.3,18L-16.3,-12Z","fill":{"gradient":"linear","x1":0,"y1":0,"x2":0,"y2":1,"stops":[{"offset":0,"color":"#34579a"},{"offset":1,"color":"#6c9fe0"}]}},
 "encoding":{"x":{"datum":{"year":2025,"month":7,"date":11,"utc":true},"type":"temporal","axis":null},"y":{"field":"p","type":"quantitative","axis":null}}},
{"data":{"name":"logo"},"mark":{"type":"point","filled":true,"opacity":1,"size":4,"strokeWidth":0,"shape":"M-16,-12L-5.3,-12L-8.7,8.7L-11.3,8.7Z","fill":{"gradient":"linear","x1":0,"y1":0,"x2":0,"y2":1,"stops":[{"offset":0,"color":"#cfe0f5"},{"offset":1,"color":"#7aa6e0"}]}},
 "encoding":{"x":{"datum":{"year":2025,"month":7,"date":11,"utc":true},"type":"temporal","axis":null},"y":{"field":"p","type":"quantitative","axis":null}}},
{"data":{"name":"logo"},"mark":{"type":"point","filled":true,"opacity":1,"size":4,"strokeWidth":0,"shape":"M-0.3,-15.3L9.7,18L-9.3,18Z","fill":{"gradient":"linear","x1":0,"y1":0,"x2":0,"y2":1,"stops":[{"offset":0,"color":"#2f5196"},{"offset":1,"color":"#6a9de0"}]}},
 "encoding":{"x":{"datum":{"year":2025,"month":7,"date":11,"utc":true},"type":"temporal","axis":null},"y":{"field":"p","type":"quantitative","axis":null}}},
{"data":{"name":"logo"},"mark":{"type":"point","filled":true,"opacity":1,"size":4,"strokeWidth":0,"shape":"M3,-19.7L18,-19.7L26.3,18L11.3,18Z","fill":{"gradient":"linear","x1":0,"y1":0,"x2":0,"y2":1,"stops":[{"offset":0,"color":"#c8dcf4"},{"offset":1,"color":"#5b8fd8"}]}},
 "encoding":{"x":{"datum":{"year":2025,"month":7,"date":11,"utc":true},"type":"temporal","axis":null},"y":{"field":"p","type":"quantitative","axis":null}}},
{"data":{"name":"logo"},"mark":{"type":"text","align":"left","baseline":"alphabetic","dx":44,"dy":13.5,"font":"Lato","fontWeight":"bold","fontSize":37,"color":"#6f656b"},
 "encoding":{"x":{"datum":{"year":2025,"month":7,"date":11,"utc":true},"type":"temporal","axis":null},"y":{"field":"p","type":"quantitative","axis":null},"text":{"field":"n"}}},
{"data":{"name":"last"},"mark":{"type":"point","filled":true,"opacity":1,"size":4,"strokeWidth":0,"color":"#000000","shape":"M0,0L11,-11.2L72,-11.2L72,11.2L11,11.2Z"},
 "encoding":{"x":{"datum":{"year":2026,"month":2,"date":2,"hours":12,"utc":true},"type":"temporal","axis":null},"y":{"field":"p","type":"quantitative","axis":null}}},
{"data":{"name":"last"},"mark":{"type":"text","align":"left","baseline":"middle","dx":19,"font":"Liberation Sans","fontSize":18,"color":"#ffffff"},
 "encoding":{"x":{"datum":{"year":2026,"month":2,"date":2,"hours":12,"utc":true},"type":"temporal","axis":null},"y":{"field":"p","type":"quantitative","axis":null},"text":{"field":"t"}}}
]
}
